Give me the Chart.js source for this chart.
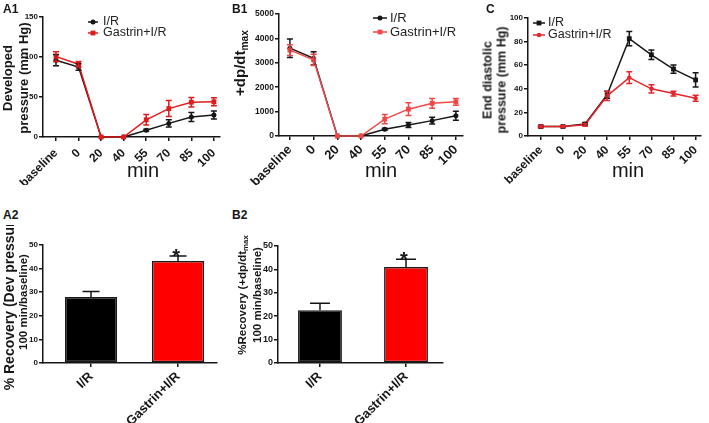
<!DOCTYPE html>
<html lang="en">
<head>
<meta charset="utf-8">
<title>Gastrin + I/R</title>
<script src="https://cdn.jsdelivr.net/npm/chart.js@4.4.1/dist/chart.umd.min.js"></script>
<style>
  html, body { margin: 0; padding: 0; background: #fff; }
  body { position: relative; width: 709px; height: 423px; overflow: hidden;
         font-family: 'Liberation Sans', Arial, Helvetica, sans-serif; color: #161616; }
  canvas { position: absolute; }
  .panel { position: absolute; font-size: 12px; font-weight: bold; line-height: 12px; }
  .titulo { position: absolute; font-weight: bold; white-space: nowrap; text-align: center;
            transform: translate(-50%, -50%) rotate(-90deg); }
  .titulo span { display: block; }
  .titulo sub { font-size: 0.68em; vertical-align: -0.3em; line-height: 0; }
  .recorte { position: absolute; overflow: hidden; }
  .min { position: absolute; font-size: 20px; line-height: 20px; transform: translateX(-50%); }
</style>
</head>
<body>
<canvas id="cA1" width="230" height="185" style="left:0;top:0"></canvas>
<canvas id="cB1" width="240" height="185" style="left:230px;top:0"></canvas>
<canvas id="cC" width="239" height="185" style="left:470px;top:0"></canvas>
<canvas id="cA2" width="230" height="198" style="left:0;top:225px"></canvas>
<canvas id="cB2" width="240" height="198" style="left:230px;top:225px"></canvas>

<div class="panel" style="left:3px;top:3px">A1</div>
<div class="panel" style="left:232px;top:3px">B1</div>
<div class="panel" style="left:486px;top:3px">C</div>
<div class="panel" style="left:3px;top:209px">A2</div>
<div class="panel" style="left:232px;top:209px">B2</div>

<div class="titulo" style="left:16px;top:78px;font-size:13px;line-height:16px"><span>Developed</span><span>pressure (mm Hg)</span></div>
<div class="titulo" style="left:240px;top:63px;font-size:15px;line-height:18px">+dp/dt<sub>max</sub></div>
<div class="titulo" style="left:495px;top:80px;font-size:12.5px;line-height:13.5px"><span>End diastolic</span><span>pressure (mm Hg)</span></div>
<div class="recorte" style="left:0;top:225px;width:36px;height:198px">
  <div class="titulo" style="left:16px;top:77px;line-height:14px"><span style="font-size:14px">% Recovery (Dev pressure</span><span style="font-size:11.5px">100 min/baseline)</span></div>
</div>
<div class="titulo" style="left:250px;top:295px;font-size:11.5px;line-height:15px"><span>%Recovery (+dp/dt<sub>max</sub></span><span>100 min/baseline)</span></div>

<div class="min" style="left:143px;top:160px">min</div>
<div class="min" style="left:381px;top:160px">min</div>
<div class="min" style="left:628px;top:160px">min</div>

<script>
// === Datos ===
const CATEGORIAS = ['baseline', '0', '20', '40', '55', '70', '85', '100'];
const GRUPOS = ['I/R', 'Gastrin+I/R'];

// A1: presion desarrollada (mm Hg)
const A1_IR      = [96, 87.5, 0, 0, 8.5, 17, 25, 27.5];
const A1_IR_SEM  = [7, 4, 0, 0, 1.2, 4.5, 5.5, 5];
const A1_GAS     = [100.5, 91, 0, 0, 21.5, 35.5, 43.5, 44];
const A1_GAS_SEM = [6, 3.5, 0, 0, 6.5, 10, 6, 5];

// B1: +dp/dt max
const B1_IR      = [3600, 3180, 0, 0, 280, 450, 630, 830];
const B1_IR_SEM  = [380, 270, 0, 0, 40, 100, 140, 180];
const B1_GAS     = [3520, 3120, 0, 0, 690, 1100, 1340, 1400];
const B1_GAS_SEM = [220, 230, 0, 0, 190, 260, 200, 140];

// C: presion telediastolica (mm Hg)
const C_IR      = [8, 8, 10.2, 35, 82.5, 68.8, 56.7, 47.5];
const C_IR_SEM  = [0.8, 0.6, 1, 3, 6, 4, 3.5, 6];
const C_GAS     = [8, 8, 9.5, 34, 49.5, 40, 36, 32];
const C_GAS_SEM = [0.8, 0.6, 1, 4, 5, 3.5, 2, 2.5];

// A2 / B2: % recuperacion a los 100 min
const A2_VALORES = [28, 43.2];
const A2_SEM     = [2.3, 2.1];
const B2_VALORES = [22.5, 41];
const B2_SEM     = [3, 3.3];
const SIGNIFICANCIA = ['', '*'];

// === Estilo ===
const FUENTE = "'Liberation Sans', Arial, Helvetica, sans-serif";
const NEGRO = '#161616';

function pares(valores){ return valores.map((v, i) => ({ x: i, y: v })); }

// barras de error (SEM) y asteriscos
const barrasError = {
  id: 'barrasError',
  afterDatasetsDraw(chart, args, o){
    const ctx = chart.ctx;
    const y = chart.scales.y;
    chart.data.datasets.forEach((ds, i) => {
      if(!ds.errores) return;
      const meta = chart.getDatasetMeta(i);
      ctx.save();
      ctx.strokeStyle = ds.colorError || ds.borderColor;
      ctx.lineWidth = o.grosor || 1.5;
      meta.data.forEach((el, j) => {
        const e = ds.errores[j];
        const v = ds.data[j].y;
        if(e){
          const arriba = y.getPixelForValue(v + e);
          const abajo = y.getPixelForValue(o.soloArriba ? v : v - e);
          ctx.beginPath();
          ctx.moveTo(el.x, abajo); ctx.lineTo(el.x, arriba);
          ctx.moveTo(el.x - o.tapa, arriba); ctx.lineTo(el.x + o.tapa, arriba);
          if(!o.soloArriba){ ctx.moveTo(el.x - o.tapa, abajo); ctx.lineTo(el.x + o.tapa, abajo); }
          ctx.stroke();
        }
        if(ds.marcas && ds.marcas[j]){
          ctx.fillStyle = NEGRO;
          ctx.font = 'bold 20px ' + FUENTE;
          ctx.textAlign = 'center';
          ctx.textBaseline = 'alphabetic';
          ctx.fillText(ds.marcas[j], el.x - 2, y.getPixelForValue(v + (e || 0)) + 7);
        }
      });
      ctx.restore();
    });
  }
};

// leyenda con linea + marcador, dentro del area
const leyendaLinea = {
  id: 'leyendaLinea',
  afterDraw(chart, args, o){
    if(o.x == null) return;
    const ctx = chart.ctx;
    ctx.save();
    ctx.font = o.tam + 'px ' + FUENTE;
    ctx.textBaseline = 'middle';
    ctx.textAlign = 'left';
    chart.data.datasets.forEach((ds, i) => {
      const yy = o.y + i * o.salto;
      ctx.strokeStyle = ds.borderColor;
      ctx.fillStyle = ds.borderColor;
      ctx.lineWidth = 1.5;
      ctx.beginPath(); ctx.moveTo(o.x, yy); ctx.lineTo(o.x + o.largo, yy); ctx.stroke();
      const cx = o.x + o.largo / 2;
      if(ds.pointStyle === 'rect'){
        const s = ds.pointRadius * Math.SQRT1_2;
        ctx.fillRect(cx - s, yy - s, 2 * s, 2 * s);
      }else{
        ctx.beginPath(); ctx.arc(cx, yy, ds.pointRadius, 0, Math.PI * 2); ctx.fill();
      }
      ctx.fillStyle = '#222';
      ctx.fillText(ds.label, o.x + o.largo + o.sep, yy);
    });
    ctx.restore();
  }
};

function ejeY(max, paso, ancho, tam){
  return {
    min: 0, max,
    afterFit: s => { s.width = ancho; },
    grid: { drawOnChartArea: false, tickLength: 4, color: NEGRO, lineWidth: 1.5 },
    border: { color: NEGRO, width: 1.5 },
    ticks: {
      stepSize: paso, padding: 1, color: NEGRO,
      font: { family: FUENTE, size: tam, weight: 'bold' },
      callback: v => String(v)
    }
  };
}

// eje x lineal: una marca por categoria, sin las de los extremos
function ejeX(min, max, alto, tam, etiquetas, sep){
  return {
    type: 'linear', min, max, offset: false,
    afterBuildTicks: s => { s.ticks = etiquetas.map((_, i) => ({ value: i })); },
    afterFit: s => { s.height = alto; },
    grid: { drawOnChartArea: false, offset: false, tickLength: 4, color: NEGRO, lineWidth: 1.5 },
    border: { color: NEGRO, width: 1.5 },
    ticks: {
      autoSkip: false, minRotation: 45, maxRotation: 45, padding: sep, color: NEGRO,
      font: { family: FUENTE, size: tam, weight: 'bold' },
      callback: v => etiquetas[v]
    }
  };
}

function serie(label, valores, sem, color, estilo, radio, orden){
  return {
    label, data: pares(valores), errores: sem,
    borderColor: color, backgroundColor: color, borderWidth: 1.5,
    pointStyle: estilo, pointRadius: radio, pointBorderWidth: 0,
    tension: 0, clip: false, order: orden
  };
}

function graficaLineas(id, c){
  return new Chart(document.getElementById(id), {
    type: 'line',
    data: { datasets: [
      serie('I/R', c.ir, c.irSem, NEGRO, c.estiloIR, c.radioIR, 1),
      serie('Gastrin+I/R', c.gas, c.gasSem, c.rojo, c.estiloGas, c.radioGas, 0)
    ]},
    options: {
      responsive: false, animation: false, devicePixelRatio: 1, events: [],
      layout: { padding: c.padding },
      plugins: {
        legend: { display: false },
        tooltip: { enabled: false },
        barrasError: { tapa: 3, grosor: 1.5 },
        leyendaLinea: c.leyenda
      },
      scales: {
        x: ejeX(c.xMin, c.xMax, c.altoX, c.tamX, CATEGORIAS, c.sepX),
        y: ejeY(c.yMax, c.paso, c.anchoY, c.tamY)
      }
    },
    plugins: [barrasError, leyendaLinea]
  });
}

function graficaBarras(id, c){
  return new Chart(document.getElementById(id), {
    type: 'bar',
    data: { datasets: [{
      data: pares(c.valores), errores: c.sem, marcas: SIGNIFICANCIA,
      backgroundColor: ['#000000', '#ff0000'], borderColor: '#1a1a1a', colorError: NEGRO,
      borderWidth: 1.5, borderSkipped: false,
      barPercentage: c.ancho, categoryPercentage: 1
    }]},
    options: {
      responsive: false, animation: false, devicePixelRatio: 1, events: [],
      layout: { padding: c.padding },
      plugins: {
        legend: { display: false },
        tooltip: { enabled: false },
        barrasError: { tapa: c.tapa, grosor: 1.5, soloArriba: true }
      },
      scales: {
        x: ejeX(c.xMin, c.xMax, 60, 13, GRUPOS, 2),
        y: ejeY(50, 10, c.anchoY, c.tamY)
      }
    },
    plugins: [barrasError]
  });
}

function init(){
  graficaLineas('cA1', {
    ir: A1_IR, irSem: A1_IR_SEM, gas: A1_GAS, gasSem: A1_GAS_SEM, rojo: '#e01b1b',
    estiloIR: 'circle', radioIR: 2.5, estiloGas: 'rect', radioGas: 3.4,
    padding: { left: 0, top: 17, right: 10, bottom: 0 },
    xMin: -0.576, xMax: 7.27, altoX: 48, tamX: 12, sepX: 5,
    yMax: 150, paso: 50, anchoY: 43, tamY: 8,
    leyenda: { x: 88, y: 22, salto: 11, largo: 10, sep: 5, tam: 12.5 }
  });
  graficaLineas('cB1', {
    ir: B1_IR, irSem: B1_IR_SEM, gas: B1_GAS, gasSem: B1_GAS_SEM, rojo: '#f04848',
    estiloIR: 'circle', radioIR: 2.5, estiloGas: 'rect', radioGas: 3.4,
    padding: { left: 0, top: 14, right: 7, bottom: 0 },
    xMin: -0.46, xMax: 7.3, altoX: 49, tamX: 13, sepX: 2,
    yMax: 5000, paso: 1000, anchoY: 49, tamY: 8.5,
    leyenda: { x: 143, y: 18, salto: 14, largo: 14, sep: 3, tam: 13 }
  });
  graficaLineas('cC', {
    ir: C_IR, irSem: C_IR_SEM, gas: C_GAS, gasSem: C_GAS_SEM, rojo: '#e3262b',
    estiloIR: 'rect', radioIR: 3.4, estiloGas: 'circle', radioGas: 2.2,
    padding: { left: 0, top: 18, right: 7, bottom: 0 },
    xMin: -0.58, xMax: 7.22, altoX: 49, tamX: 12, sepX: 3,
    yMax: 100, paso: 20, anchoY: 58, tamY: 8,
    leyenda: { x: 63, y: 23, salto: 12, largo: 12, sep: 3, tam: 12.5 }
  });
  graficaBarras('cA2', {
    valores: A2_VALORES, sem: A2_SEM, ancho: 0.6, tapa: 8.5,
    padding: { left: 0, top: 20, right: 13, bottom: 0 },
    xMin: -0.552, xMax: 1.448, anchoY: 43, tamY: 8
  });
  graficaBarras('cB2', {
    valores: B2_VALORES, sem: B2_SEM, ancho: 0.51, tapa: 10,
    padding: { left: 0, top: 21, right: 27, bottom: 0 },
    xMin: -0.488, xMax: 1.43, anchoY: 48, tamY: 9
  });
}

init();
</script>
</body>
</html>
